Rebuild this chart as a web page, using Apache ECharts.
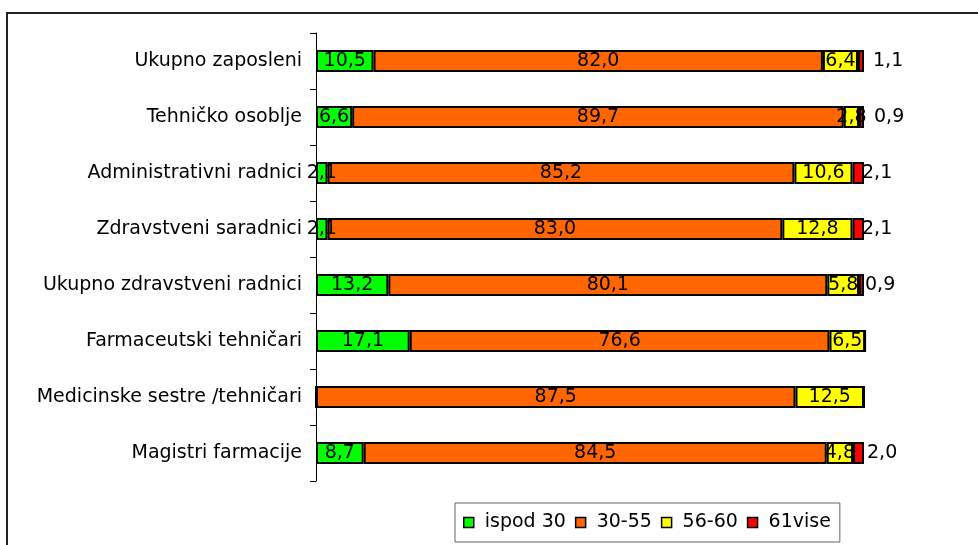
<!DOCTYPE html>
<html>
<head>
<meta charset="utf-8">
<script src="https://cdn.jsdelivr.net/npm/echarts@6/dist/echarts.min.js"></script>
<style>html,body{margin:0;padding:0;background:#fff}#c{width:978px;height:545px}</style>
</head>
<body>
<div id="c"></div>
<script>
const categories = ['Ukupno zaposleni','Tehničko osoblje','Administrativni radnici','Zdravstveni saradnici','Ukupno zdravstveni radnici','Farmaceutski tehničari','Medicinske sestre /tehničari','Magistri farmacije'];
const seriesNames = ['ispod 30','30-55','56-60','61vise'];
const ispod30 = [10.5, 6.6, 2.1, 2.1, 13.2, 17.1, 0, 8.7];
const s30_55 = [82.0, 89.7, 85.2, 83.0, 80.1, 76.6, 87.5, 84.5];
const s56_60 = [6.4, 2.8, 10.6, 12.8, 5.8, 6.5, 12.5, 4.8];
const s61vise = [1.1, 0.9, 2.1, 2.1, 0.9, 0, 0, 2.0];

const colors = ['#00ff00','#ff6600','#ffff00','#ff0000'];
const redLabelDist = [9, 10, -2, -2, 1, 5, 5, 3];
const font = '"DejaVu Sans", Verdana, sans-serif';
const fs = 19;
const fmt = p => (p.value ? Number(p.value).toFixed(1).replace('.', ',') : '');

function mk(name, arr, idx) {
  const s = {
    name: name, type: 'bar', stack: 'a', barWidth: 22, clip: false,
    itemStyle: { color: colors[idx], borderColor: '#000', borderWidth: 2 },
    label: { show: true, position: 'inside', color: '#000', fontSize: fs, fontFamily: font, formatter: fmt },
    data: arr.slice()
  };
  if (idx === 3) {
    s.data = arr.map((v, i) => ({ value: v, label: { position: 'right', distance: redLabelDist[i] } }));
  }
  return s;
}

const chart = echarts.init(document.getElementById('c'), null, { renderer: 'canvas' });
chart.setOption({
  animation: false,
  backgroundColor: '#fff',
  textStyle: { fontFamily: font },
  grid: { left: 316, right: 114, top: 33, bottom: 64, containLabel: false },
  xAxis: { type: 'value', min: 0, max: 100, show: false },
  yAxis: {
    type: 'category', inverse: true, data: categories,
    axisLine: { show: true, lineStyle: { color: '#000', width: 1 } },
    axisTick: { show: true, length: 6, lineStyle: { color: '#000' } },
    axisLabel: { color: '#000', fontSize: fs, fontFamily: font, margin: 14 }
  },
  legend: {
    left: 455, top: 503, orient: 'horizontal',
    padding: [10, 9, 10, 8],
    borderColor: '#666', borderWidth: 1,
    itemWidth: 10, itemHeight: 10, itemGap: 9,
    icon: 'rect',
    itemStyle: { borderColor: '#000', borderWidth: 1.5 },
    textStyle: { color: '#000', fontSize: fs, fontFamily: font, padding: [0, 0, 0, 6] },
    data: seriesNames
  },
  graphic: [{
    type: 'rect', silent: true, z: -1,
    shape: { x: 7, y: 13, width: 1100, height: 700 },
    style: { fill: 'none', stroke: '#222', lineWidth: 2 }
  }],
  series: [mk(seriesNames[0], ispod30, 0), mk(seriesNames[1], s30_55, 1), mk(seriesNames[2], s56_60, 2), mk(seriesNames[3], s61vise, 3)]
});
</script>
</body>
</html>
